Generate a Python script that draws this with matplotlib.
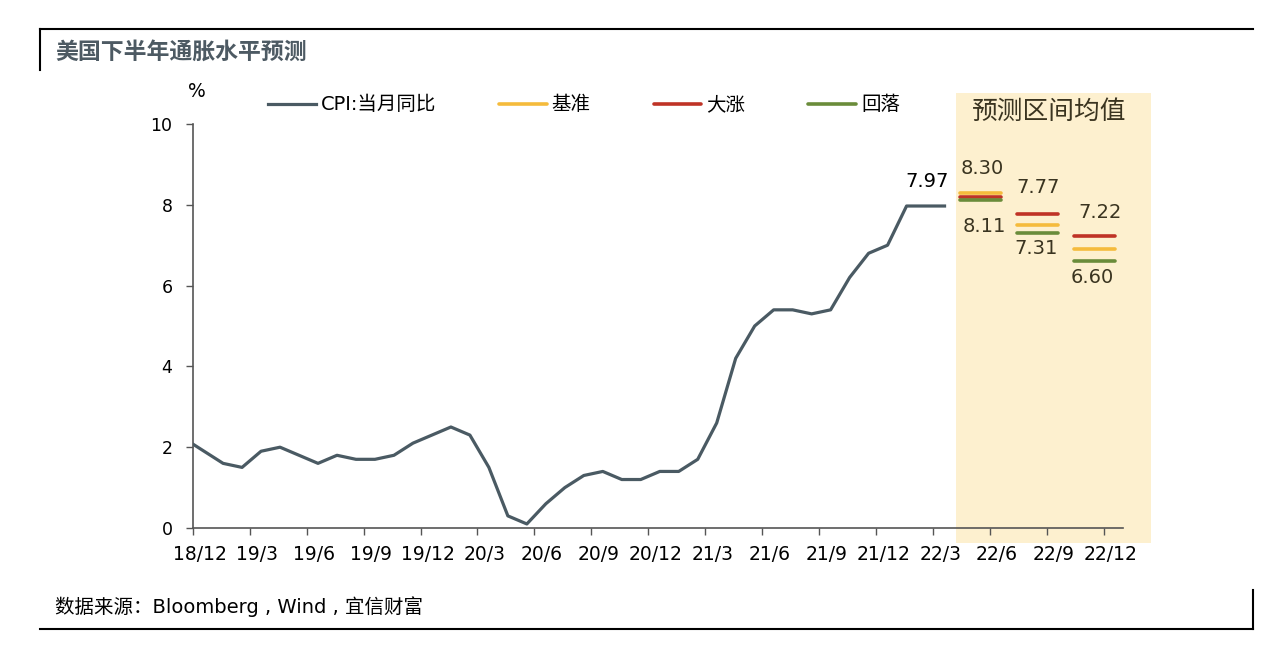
import numpy as np
import matplotlib
matplotlib.use("Agg")
import matplotlib.pyplot as plt
import matplotlib.transforms as mtransforms
from matplotlib.lines import Line2D
from matplotlib.patches import Rectangle

plt.rcParams['font.family'] = ['DejaVu Sans', 'Noto Sans CJK SC']

# CPI 当月同比, 2018/11 - 2022/3
cpi = [2.2, 1.9, 1.6, 1.5, 1.9, 2.0, 1.8, 1.6, 1.8, 1.7, 1.7, 1.8, 2.1, 2.3,
       2.5, 2.3, 1.5, 0.3, 0.1, 0.6, 1.0, 1.3, 1.4, 1.2, 1.2, 1.4, 1.4, 1.7,
       2.6, 4.2, 5.0, 5.4, 5.4, 5.3, 5.4, 6.2, 6.8, 7.0, 7.97, 7.97, 7.97]
tick_labels = ["18/12", "19/3", "19/6", "19/9", "19/12", "20/3", "20/6", "20/9",
               "20/12", "21/3", "21/6", "21/9", "21/12", "22/3", "22/6", "22/9", "22/12"]

# 预测区间均值
fc_periods = ["22/6", "22/9", "22/12"]
fc_base = [8.30, 7.50, 6.90]
fc_up = [8.20, 7.77, 7.22]
fc_down = [8.11, 7.31, 6.60]
fc_top_labels = ["8.30", "7.77", "7.22"]
fc_bot_labels = ["8.11", "7.31", "6.60"]

c_cpi = "#4a5a63"
c_base = "#f5bb3c"
c_up = "#bf3326"
c_down = "#6a8c3a"
c_text = "#3a3420"

fig = plt.figure(figsize=(12.8, 6.66), dpi=100)
ax = fig.add_axes([192.7 / 1280, 1 - 528 / 666, (1123 - 192.7) / 1280, 404 / 666])

# x in months after the 18/12 tick
x = np.arange(len(cpi)) - 1 + 0.6
ax.plot(x, cpi, color=c_cpi, lw=2.3, label="CPI:当月同比", zorder=3)

# forecast band
ax.add_patch(Rectangle((40.2, -0.37), 10.3, 11.14, facecolor="#fdf0cf",
                       edgecolor="none", clip_on=False, zorder=0))

tick_pos = np.arange(len(tick_labels)) * 3
fc_x = [tick_pos[tick_labels.index(p)] - 0.5 for p in fc_periods]
hw = 1.07
for i, xc in enumerate(fc_x):
    ax.plot([xc - hw, xc + hw], [fc_base[i]] * 2, color=c_base, lw=2.6, solid_capstyle="round",
            label="基准" if i == 0 else None, zorder=3)
    ax.plot([xc - hw, xc + hw], [fc_up[i]] * 2, color=c_up, lw=2.6, solid_capstyle="round",
            label="大涨" if i == 0 else None, zorder=3)
    ax.plot([xc - hw, xc + hw], [fc_down[i]] * 2, color=c_down, lw=2.6, solid_capstyle="round",
            label="回落" if i == 0 else None, zorder=3)

# value labels
fs = 14
ax.text(fc_x[0] + 0.1, fc_base[0] + 0.6, fc_top_labels[0], ha="center", va="center", fontsize=fs, color=c_text)
ax.text(fc_x[0] + 0.2, fc_down[0] - 0.65, fc_bot_labels[0], ha="center", va="center", fontsize=fs, color=c_text)
ax.text(fc_x[1], fc_up[1] + 0.65, fc_top_labels[1], ha="center", va="center", fontsize=fs, color=c_text)
ax.text(fc_x[1] - 0.1, fc_down[1] - 0.4, fc_bot_labels[1], ha="center", va="center", fontsize=fs, color=c_text)
ax.text(fc_x[2] + 0.3, fc_up[2] + 0.6, fc_top_labels[2], ha="center", va="center", fontsize=fs, color=c_text)
ax.text(fc_x[2] - 0.1, fc_down[2] - 0.4, fc_bot_labels[2], ha="center", va="center", fontsize=fs, color=c_text)
ax.text(x[-2] + 0.1, cpi[-1] + 0.6, "7.97", ha="center", va="center", fontsize=fs, color="black")
ax.text(45.1, 10.3, "预测区间均值", ha="center", va="center", fontsize=18.5, color=c_text)

ax.set_xlim(0, 49)
ax.set_ylim(0, 10)
ax.set_xticks(tick_pos)
ax.set_xticklabels(tick_labels)
ax.set_yticks([0, 2, 4, 6, 8, 10])
ax.tick_params(axis="both", direction="out", length=5, color="#555555", width=1)
ax.tick_params(axis="x", labelsize=13.5, pad=7)
ax.tick_params(axis="y", labelsize=12.5, pad=9.5)
# labels sit a little right of their ticks
shift = mtransforms.ScaledTranslation(7 / 100, 0, fig.dpi_scale_trans)
for lab in ax.get_xticklabels():
    lab.set_transform(lab.get_transform() + shift)
for s in ["top", "right"]:
    ax.spines[s].set_visible(False)
for s in ["left", "bottom"]:
    ax.spines[s].set_color("#555555")
    ax.spines[s].set_linewidth(1.2)
ax.patch.set_alpha(0)
ax.text(0.2, 10.8, "%", ha="center", va="center", fontsize=13.5)

ax.legend(loc="center left", bbox_to_anchor=(268 / 1280, 1 - 105 / 666), bbox_transform=fig.transFigure,
          ncol=4, frameon=False, fontsize=14, handlelength=2.45, handletextpad=0.25,
          columnspacing=3.25, borderpad=0, borderaxespad=0)

# frame and header/footer
fig.add_artist(Line2D([40 / 1280, 1253 / 1280], [1 - 29 / 666] * 2, color="black", lw=1.5))
fig.add_artist(Line2D([40 / 1280] * 2, [1 - 29 / 666, 1 - 70 / 666], color="black", lw=1.5))
fig.add_artist(Line2D([40 / 1280, 1253 / 1280], [1 - 629 / 666] * 2, color="black", lw=1.5))
fig.add_artist(Line2D([1253 / 1280] * 2, [1 - 590 / 666, 1 - 629 / 666], color="black", lw=1.5))
fig.text(55 / 1280, 1 - 52 / 666, "美国下半年通胀水平预测", fontsize=16.5, fontweight="bold",
         color="#4d5a63", va="center", ha="left")
fig.text(55 / 1280, 1 - 607 / 666, "数据来源：Bloomberg , Wind , 宜信财富", fontsize=14,
         color="black", va="center", ha="left")

fig.savefig("out.png", dpi=100)
